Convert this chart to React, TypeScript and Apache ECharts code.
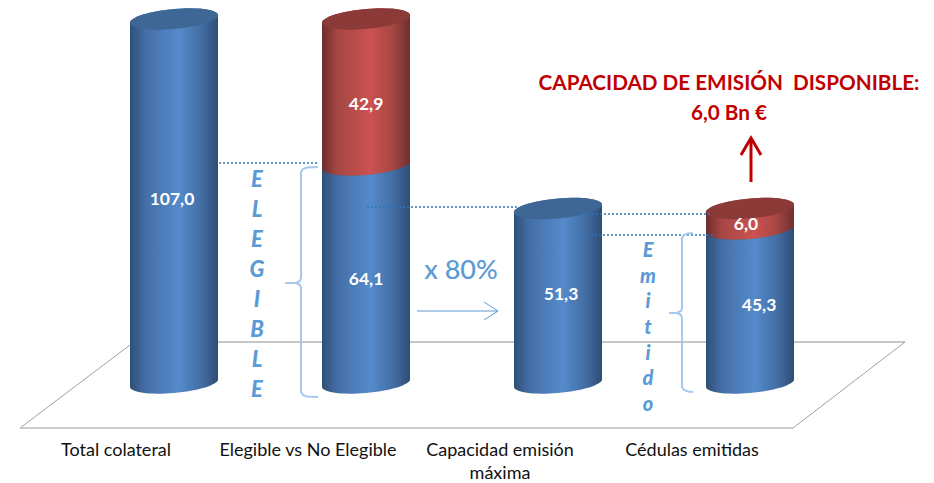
import React, { useEffect, useRef } from "react";
import * as echarts from "echarts";

const categories = ["Total colateral", "Elegible vs No Elegible", "Capacidad emisión\nmáxima", "Cédulas emitidas"];
const blueValues = [107.0, 64.1, 51.3, 45.3];
const redValues = [0, 42.9, 0, 6.0];
const title = "CAPACIDAD DE EMISIÓN  DISPONIBLE:";
const subtitle = "6,0 Bn €";
const factorText = "x 80%";

const FONT = "Lato, Carlito, 'Open Sans', sans-serif";
const DEPTH_X = 58; // perspective shift of the cylinders from the floor's axis labels
const HALF_W = 44;
const ELL_B = 10;
const ELL_S = 3.8;
const LABEL_DY: Record<string, number[]> = { blue: [-3, 5, -2, -1], red: [0, 12, 0, 5] };
const LABEL_DX: Record<string, number[]> = { blue: [-2, 0, 3, 9], red: [0, 0, 0, -4] };

const ACCENT = "#5B9BD5";
const BRACE = "#A6C8EB";
const DOT = "#2E75B6";
const DARKRED = "#C00000";

const grad = (a: string, b: string, c: string, d: string) =>
  new echarts.graphic.LinearGradient(0, 0, 1, 0, [
    { offset: 0, color: a },
    { offset: 0.18, color: b },
    { offset: 0.55, color: c },
    { offset: 0.8, color: b },
    { offset: 1, color: d },
  ]);
const blueGrad = grad("#2F4F78", "#446FA6", "#558ACB", "#2D4D75");
const redGrad = grad("#6C2E2C", "#A64744", "#CB5250", "#6E2F2D");

function ell(cx: number, cy: number, t: number): number[] {
  return [cx + HALF_W * Math.cos(t), cy + ELL_B * Math.sin(t) - ELL_S * Math.cos(t)];
}
function arc(cx: number, cy: number, from: number, to: number, n = 32): number[][] {
  const out: number[][] = [];
  for (let k = 0; k <= n; k++) out.push(ell(cx, cy, from + ((to - from) * k) / n));
  return out;
}

function makeRender(fill: any, cap: string, key: string) {
  return (_params: any, api: any) => {
    const i = api.value(0);
    const base = api.value(1);
    const top = api.value(2);
    const value = top - base;
    if (!(value > 0)) return { type: "group", children: [] };
    const pb = api.coord([i, base]);
    const pt = api.coord([i, top]);
    const cx = pb[0] + DEPTH_X;
    const body = [...arc(cx, pb[1], 0, Math.PI), ...arc(cx, pt[1], Math.PI, 2 * Math.PI)];
    return {
      type: "group",
      children: [
        { type: "polygon", shape: { points: body }, style: { fill } },
        { type: "polygon", shape: { points: arc(cx, pt[1], 0, 2 * Math.PI, 64) }, style: { fill: cap } },
        {
          type: "text",
          x: cx + LABEL_DX[key][i],
          y: (pb[1] + pt[1]) / 2 + LABEL_DY[key][i],
          style: {
            text: value.toFixed(1).replace(".", ","),
            fill: "#fff",
            font: `bold 17.5px ${FONT}`,
            align: "center",
            verticalAlign: "middle",
          },
        },
      ],
    };
  };
}

const line = (x1: number, y1: number, x2: number, y2: number, style: any, z = 10) => ({
  type: "line",
  z,
  silent: true,
  shape: { x1, y1, x2, y2 },
  style,
});
const dotted = (x1: number, y: number, x2: number) =>
  line(x1, y, x2, y, { stroke: DOT, lineWidth: 1.4, lineDash: [2, 2] });
const poly = (points: number[][], style: any, z = 10) => ({
  type: "polyline",
  z,
  silent: true,
  shape: { points },
  style: { fill: "none", ...style },
});
const txt = (x: number, y: number, text: string, font: string, fill: string, align = "center", lineHeight?: number) => ({
  type: "text",
  z: 10,
  silent: true,
  x,
  y,
  style: { text, font, fill, align, verticalAlign: "middle", lineHeight },
});
const brace = (xEnd: number, xS: number, xTip: number, yT: number, yM: number, yB: number) =>
  poly(
    [
      [xEnd, yT],
      [xS + 6, yT + 0.6],
      [xS + 2, yT + 2],
      [xS, yT + 5],
      [xS, yM - 5],
      [xS - 1, yM - 2],
      [xS - 5, yM],
      [xTip, yM],
      [xS - 5, yM],
      [xS - 1, yM + 2],
      [xS, yM + 5],
      [xS, yB - 5],
      [xS + 2, yB - 2],
      [xS + 6, yB - 0.6],
      [xEnd, yB],
    ],
    { stroke: BRACE, lineWidth: 2 }
  );

export default function App() {
  const ref = useRef<HTMLDivElement>(null);
  useEffect(() => {
    const chart = echarts.init(ref.current!, undefined, { renderer: "svg" });
    const blueData = blueValues.map((v, i) => [i, 0, v]);
    const redData = redValues.map((v, i) => [i, blueValues[i], blueValues[i] + v]);
    chart.setOption({
      animation: false,
      backgroundColor: "#fff",
      grid: { left: 20, width: 768, top: 19, height: 367 },
      xAxis: {
        type: "category",
        data: categories,
        axisLine: { show: false },
        axisTick: { show: false },
        axisLabel: {
          interval: 0,
          margin: 54,
          fontFamily: FONT,
          fontSize: 18,
          color: "#111",
          lineHeight: 23,
          verticalAlign: "top",
        },
      },
      yAxis: { type: "value", min: 0, max: 107, show: false, splitLine: { show: false } },
      series: [
        {
          type: "custom",
          name: "Elegible",
          z: 5,
          coordinateSystem: "cartesian2d",
          encode: { x: 0, y: 2 },
          data: blueData,
          renderItem: makeRender(blueGrad, "#3F6795", "blue"),
        },
        {
          type: "custom",
          name: "No elegible",
          z: 6,
          coordinateSystem: "cartesian2d",
          encode: { x: 0, y: 2 },
          data: redData,
          renderItem: makeRender(redGrad, "#8C3A38", "red"),
        },
      ],
      graphic: {
        elements: [
          line(131, 342, 905, 342, { stroke: "#8E8E8E", lineWidth: 1 }, 0),
          line(130, 345, 20, 428, { stroke: "#A0A0A0", lineWidth: 1 }, 0),
          line(20, 428, 793, 428, { stroke: "#BDBDBD", lineWidth: 1.6 }, 0),
          line(905, 342, 793, 428, { stroke: "#A0A0A0", lineWidth: 1 }, 0),

          dotted(219, 163, 318),
          dotted(367, 207, 519),
          dotted(580, 214, 712),
          dotted(579, 235, 715),

          brace(318, 301, 285, 167, 283, 397),
          brace(693, 682, 669, 233, 313, 392),

          txt(257, 283, "E\nL\nE\nG\nI\nB\nL\nE", `italic 900 22px ${FONT}`, ACCENT, "center", 30),
          txt(648, 326, "E\nm\ni\nt\ni\nd\no", `italic 900 20px ${FONT}`, ACCENT, "center", 25.7),

          txt(461, 268, factorText, `500 27px ${FONT}`, ACCENT),
          line(417, 311, 498, 311, { stroke: ACCENT, lineWidth: 1 }),
          poly([[484, 302], [498, 311], [484, 320]], { stroke: ACCENT, lineWidth: 1 }),

          txt(729, 82, title, `bold 20.7px ${FONT}`, DARKRED),
          txt(729, 112, subtitle, `bold 20.7px ${FONT}`, DARKRED),
          line(751, 182, 751, 139, { stroke: DARKRED, lineWidth: 3 }),
          poly([[741, 155], [751, 138], [761, 155]], { stroke: DARKRED, lineWidth: 3 }),
        ],
      },
    });
    return () => chart.dispose();
  }, []);
  return <div ref={ref} style={{ position: "absolute", left: 0, top: 0, width: 934, height: 483 }} />;
}
